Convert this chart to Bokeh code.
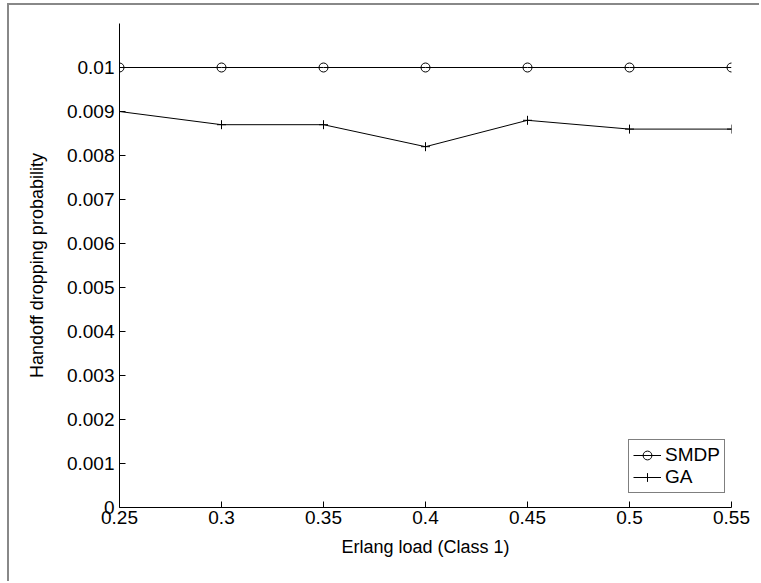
from bokeh.plotting import figure
from bokeh.models import Legend, LegendItem, FixedTicker, Range1d
from bokeh.embed import file_html
from bokeh.resources import INLINE

load = [0.25, 0.3, 0.35, 0.4, 0.45, 0.5, 0.55]
smdp = [0.01, 0.01, 0.01, 0.01, 0.01, 0.01, 0.01]
ga = [0.009, 0.0087, 0.0087, 0.0082, 0.0088, 0.0086, 0.0086]
x_ticks = [0.25, 0.3, 0.35, 0.4, 0.45, 0.5, 0.55]
y_ticks = [0, 0.001, 0.002, 0.003, 0.004, 0.005, 0.006, 0.007, 0.008, 0.009, 0.01]
y_tick_labels = {0: "0", 0.001: "0.001", 0.002: "0.002", 0.003: "0.003", 0.004: "0.004",
                 0.005: "0.005", 0.006: "0.006", 0.007: "0.007", 0.008: "0.008",
                 0.009: "0.009", 0.01: "0.01"}
x_tick_labels = {0.25: "0.25", 0.3: "0.3", 0.35: "0.35", 0.4: "0.4", 0.45: "0.45",
                 0.5: "0.5", 0.55: "0.55"}

FONT = "Liberation Sans"

p = figure(width=752, height=578, output_backend="svg", toolbar_location=None,
           x_range=Range1d(0.25, 0.55), y_range=Range1d(0, 0.011),
           min_border_left=110, min_border_right=30, min_border_top=18, min_border_bottom=76)
p.styles = {"border-left": "2px solid #888888", "border-top": "2px solid #888888",
            "margin-left": "7px", "margin-top": "3px"}
p.outline_line_color = None
p.xgrid.visible = False
p.ygrid.visible = False

for ax in (p.xaxis[0], p.yaxis[0]):
    ax.major_tick_in = 6
    ax.major_tick_out = 0
    ax.minor_tick_line_color = None
    ax.axis_line_color = "black"
    ax.major_tick_line_color = "black"
    ax.major_label_text_font = FONT
    ax.major_label_text_font_size = "19px"
    ax.major_label_text_color = "black"
    ax.axis_label_text_font = FONT
    ax.axis_label_text_font_size = "18px"
    ax.axis_label_text_font_style = "normal"
    ax.axis_label_text_color = "black"

p.xaxis.ticker = FixedTicker(ticks=x_ticks)
p.xaxis.major_label_overrides = x_tick_labels
p.yaxis.ticker = FixedTicker(ticks=y_ticks)
p.yaxis.major_label_overrides = y_tick_labels
p.xaxis.axis_label = "Erlang load (Class 1)"
p.yaxis.axis_label = "Handoff dropping probability"
p.xaxis.major_label_standoff = 3
p.yaxis.major_label_standoff = 5
p.xaxis.axis_label_standoff = 10
p.yaxis.axis_label_standoff = 17

l1 = p.line(load, smdp, line_color="black", line_width=1)
c1 = p.scatter(load, smdp, marker="circle", size=9, fill_color=None, line_color="black", line_width=1)
l2 = p.line(load, ga, line_color="black", line_width=1)
c2 = p.scatter(load, ga, marker="cross", size=9, line_color="black", line_width=1)

legend = Legend(items=[LegendItem(label="SMDP", renderers=[l1, c1]),
                       LegendItem(label="GA", renderers=[l2, c2])],
                location=(509, 14))
legend.border_line_color = "black"
legend.border_line_width = 1
legend.label_text_font = FONT
legend.label_text_font_size = "19px"
legend.label_text_color = "black"
legend.glyph_width = 28
legend.glyph_height = 22
legend.label_height = 22
legend.label_standoff = 4
legend.padding = 4
legend.spacing = 0
legend.margin = 0
legend.background_fill_color = "white"
p.add_layout(legend, "center")

open("out.html", "w").write(file_html(p, INLINE))
